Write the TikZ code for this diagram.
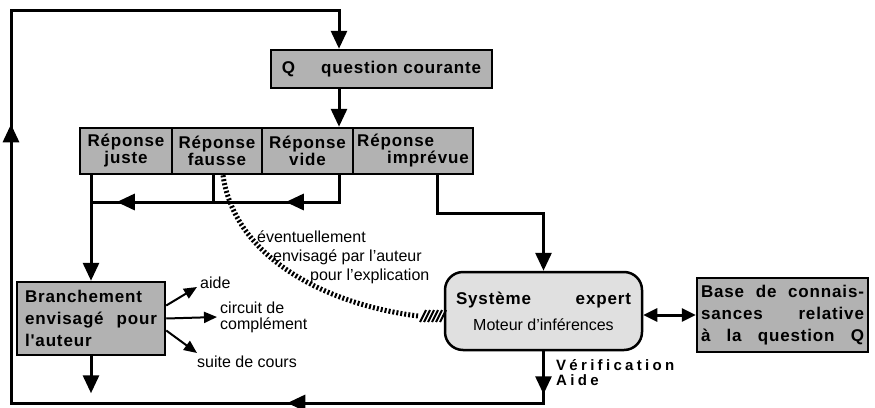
\documentclass[tikz,border=0pt]{standalone}
\usepackage{fontspec}
\setmainfont{Liberation Sans}
\newfontfamily\boxfont[LetterSpace=5]{Liberation Sans}
\newfontfamily\wideboxfont[LetterSpace=22]{Liberation Sans}
\usetikzlibrary{arrows.meta, decorations.markings}

\tikzset{
  conn/.style={line width=3pt},
  bigtip/.style={-{Triangle[length=18pt,width=16pt]}},
  smalltip/.style={line width=2pt, -{Triangle[length=13pt,width=11pt]}},
  greybox/.style={draw, line width=2.5pt, fill=black!30, inner sep=0pt,
    font=\boxfont\bfseries\fontsize{17}{17}\selectfont},
  note/.style={inner sep=0pt, font=\fontsize{16}{16}\selectfont},
  hatch/.style={line width=5pt, dash pattern=on 2pt off 2pt},
}

\begin{document}
\begin{tikzpicture}[x=1pt,y=-1pt]
    \useasboundingbox (0,0) rectangle (875,407);

    % Question and the four kinds of answer
    \node[greybox, minimum width=221pt, minimum height=38pt] (qcour) at (381.5,69) {Q\hspace{26pt}question courante};
    \node[greybox, minimum width=92pt, minimum height=46pt, align=center] (rjuste) at (126,151) {Réponse\\juste};
    \node[greybox, minimum width=90pt, minimum height=46pt, align=center] (rfausse) at (217,151) {Réponse\\fausse};
    \node[greybox, minimum width=91pt, minimum height=46pt, align=center] (rvide) at (307.5,151) {Réponse\\vide};
    \node[greybox, minimum width=120pt, minimum height=46pt, align=left] (rimprevue) at (413,151) {Réponse\\\hspace{30pt}imprévue};

    % Branching, expert system, knowledge base
    \node[greybox, minimum width=148pt, minimum height=73pt, align=left,
        font=\boxfont\bfseries\fontsize{17}{22}\selectfont] (branch) at (91,318.5)
        {Branchement\\\makebox[132pt][s]{envisagé pour}\\l'auteur};
    \node[draw, line width=2.5pt, rounded corners=18pt, fill=black!12, inner sep=0pt,
        minimum width=197pt, minimum height=78pt, align=center,
        font=\fontsize{16}{16}\selectfont] (sysexp) at (543.5,311)
        {{\boxfont\bfseries\fontsize{17}{17}\selectfont\makebox[175pt][s]{Système expert}}\\[10pt]Moteur d'inférences};
    \node[greybox, minimum width=171pt, minimum height=74pt, align=center,
        font=\boxfont\bfseries\fontsize{17}{22}\selectfont] (base) at (782.5,315)
        {\makebox[163pt][s]{Base de connais-}\\\makebox[163pt][s]{sances relative}\\\makebox[163pt][s]{à la question Q}};

    % Labels
    \node[note, anchor=west] (aide) at (200,283) {aide};
    \node[note, anchor=west, align=left] (circuit) at (220,317) {circuit de\\complément};
    \node[note, anchor=west] (suite) at (197,362) {suite de cours};
    \node[note, anchor=north west, align=left, font=\fontsize{16}{19}\selectfont] (eventuel) at (257,231)
        {éventuellement\\\hspace{16pt}envisagé par l'auteur\\\hspace{53pt}pour l'explication};
    \node[anchor=north west, align=left, inner sep=0pt,
        font=\wideboxfont\bfseries\fontsize{15}{15}\selectfont] (verif) at (556,359) {Vérification\\Aide};

    % Helper points
    \coordinate (qtop) at ([xshift=-42.5pt]qcour.north);
    \coordinate (qbot) at ([xshift=-42.5pt]qcour.south);
    \coordinate (row) at (0,202);
    \coordinate (corner) at (11,403);
    \coordinate (topleft) at (11,10);
    \coordinate (hatchend) at (418,316);

    % Flow
    \draw[conn, bigtip] (qbot) -- (qbot |- rvide.north);
    \draw[conn, postaction={decorate}, decoration={markings,
            mark=at position 80pt with {\arrow{Triangle[length=18pt,width=16pt]}},
            mark=at position 249pt with {\arrow{Triangle[length=18pt,width=16pt]}}}]
        (qbot |- rvide.south) -- (qbot |- row) -- (branch.north |- row);
    \draw[conn] ([xshift=-4pt]rfausse.south) -- ([xshift=-4pt]rfausse.south |- row);
    \draw[conn, bigtip] (branch.north |- rjuste.south) -- (branch.north);
    \draw[conn, bigtip] ([xshift=24pt]rimprevue.south) -- ++(0,38) -| (sysexp.north);
    \draw[conn, bigtip] (branch.south) -- ++(0,37);
    \draw[conn, {Triangle[length=14pt,width=13pt]}-{Triangle[length=14pt,width=13pt]}]
        (sysexp.east |- base.west) -- (base.west);

    % Back to the question
    \draw[conn, bigtip, postaction={decorate}, decoration={markings,
            mark=at position 43pt with {\arrow{Triangle[length=18pt,width=16pt]}},
            mark=at position 308pt with {\arrow{Triangle[length=18pt,width=16pt]}},
            mark=at position 863pt with {\arrow{Triangle[length=18pt,width=16pt]}}}]
        (sysexp.south) -- (sysexp.south |- corner) -- (corner) -- (topleft) -- (topleft -| qtop) -- (qtop);

    % Branching outputs
    \draw[smalltip] ([yshift=13pt]branch.east) -- ([xshift=-3pt,yshift=-4pt]aide.west);
    \draw[smalltip] (branch.east) -- ([xshift=-3pt]circuit.west);
    \draw[smalltip] ([yshift=-12pt]branch.east) -- ([yshift=9pt]suite.west);

    % Possible explanation
    \draw[hatch] ([xshift=6pt]rfausse.south) .. controls (235,260) and (330,305) .. (hatchend);
    \foreach \i in {0,...,5}
        \draw[line width=2pt] ({420+4*\i},322) -- ({426+4*\i},310);
    \draw[line width=1.5pt] (442,316) -- ([yshift=-5pt]sysexp.west);
\end{tikzpicture}
\end{document}
